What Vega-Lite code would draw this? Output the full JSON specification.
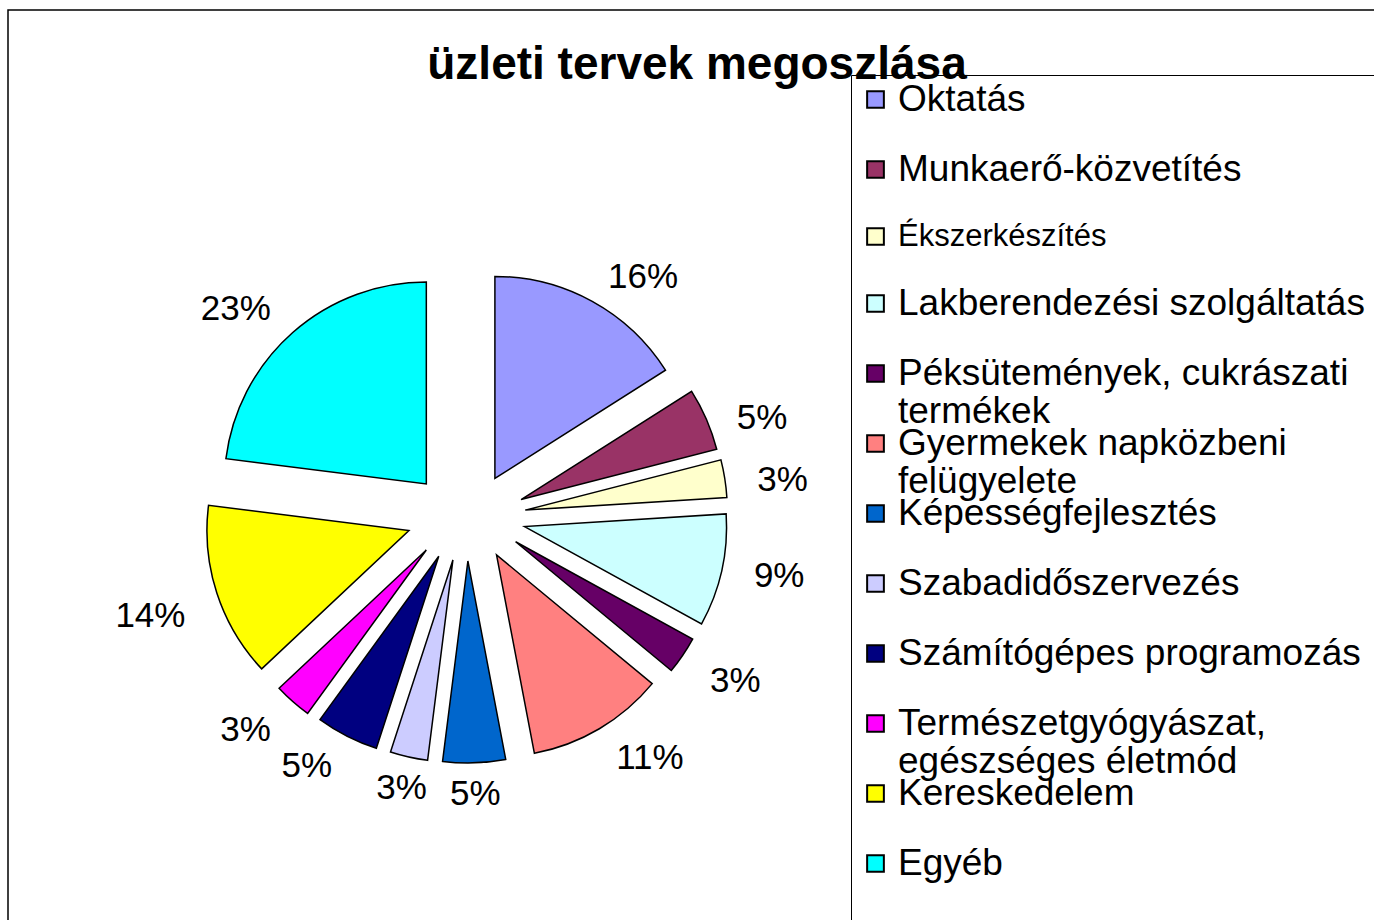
{
  "$schema": "https://vega.github.io/schema/vega-lite/v6.json",
  "width": 1406,
  "height": 950,
  "autosize": {"type": "none"},
  "padding": {"left": 8, "top": 10, "right": -40, "bottom": -40},
  "background": "white",
  "config": {
    "view": {"stroke": "black", "strokeWidth": 1.5, "fill": "white"},
    "font": "Liberation Sans"
  },
  "title": {
    "text": "üzleti tervek megoszlása",
    "font": "Liberation Sans",
    "fontSize": 46,
    "fontWeight": "bold",
    "color": "black",
    "anchor": "middle",
    "frame": "group",
    "baseline": "alphabetic",
    "offset": 0,
    "dx": -14,
    "dy": 115
  },
  "data": {
    "values": [
      {"kategoria": "Oktatás", "arany": 0.16},
      {"kategoria": "Munkaerő-közvetítés", "arany": 0.05},
      {"kategoria": "Ékszerkészítés", "arany": 0.03},
      {"kategoria": "Lakberendezési szolgáltatás", "arany": 0.09},
      {"kategoria": "Péksütemények, cukrászati termékek", "arany": 0.03},
      {"kategoria": "Gyermekek napközbeni felügyelete", "arany": 0.11},
      {"kategoria": "Képességfejlesztés", "arany": 0.05},
      {"kategoria": "Szabadidőszervezés", "arany": 0.03},
      {"kategoria": "Számítógépes programozás", "arany": 0.05},
      {"kategoria": "Természetgyógyászat, egészséges életmód", "arany": 0.03},
      {"kategoria": "Kereskedelem", "arany": 0.14},
      {"kategoria": "Egyéb", "arany": 0.23}
    ]
  },
  "transform": [
    {"window": [{"op": "row_number", "as": "sorszam"}]},
    {"window": [{"op": "sum", "field": "arany", "as": "kumulalt"}], "sort": [{"field": "sorszam"}], "frame": [null, 0]},
    {"joinaggregate": [{"op": "sum", "field": "arany", "as": "osszes"}]},
    {"calculate": "2 * PI * (datum.kumulalt - datum.arany / 2) / datum.osszes", "as": "kozep"},
    {"calculate": "sin(datum.kozep)", "as": "kx"},
    {"calculate": "cos(datum.kozep)", "as": "ky"}
  ],
  "encoding": {
    "theta": {"field": "arany", "type": "quantitative", "stack": true},
    "order": {"field": "sorszam", "type": "quantitative"},
    "detail": {"field": "kategoria", "type": "nominal"},
    "y": {"field": "ky", "type": "quantitative", "axis": null,
          "scale": {"domain": [-11.5227, 11.5227], "range": [1014, 0], "zero": false, "nice": false}}
  },
  "resolve": {"scale": {"x": "independent"}},
  "layer": [
    {
      "mark": {"type": "arc", "outerRadius": 202, "stroke": "black", "strokeWidth": 1.5},
      "encoding": {
        "x": {"field": "kx", "type": "quantitative", "axis": null,
              "scale": {"domain": [-7.6333, 7.6333], "range": [0, 916], "zero": false, "nice": false}},
        "color": {
          "field": "kategoria",
          "type": "nominal",
          "scale": {
            "domain": ["Oktatás", "Munkaerő-közvetítés", "Ékszerkészítés", "Lakberendezési szolgáltatás", "Péksütemények, cukrászati termékek", "Gyermekek napközbeni felügyelete", "Képességfejlesztés", "Szabadidőszervezés", "Számítógépes programozás", "Természetgyógyászat, egészséges életmód", "Kereskedelem", "Egyéb"],
            "range": ["#9999FF", "#993366", "#FFFFCC", "#CCFFFF", "#660066", "#FF8080", "#0066CC", "#CCCCFF", "#000080", "#FF00FF", "#FFFF00", "#00FFFF"]
          },
          "legend": {
            "orient": "none",
            "legendX": 843,
            "legendY": 65,
            "title": null,
            "symbolType": "square",
            "symbolSize": 280,
            "symbolStrokeColor": "black",
            "symbolStrokeWidth": 2,
            "labelFont": "Liberation Sans",
            "labelFontSize": 37,
            "labelColor": "black",
            "labelLimit": 2000,
            "labelOffset": 13,
            "padding": 15,
            "rowPadding": -6,
            "strokeColor": "black",
            "fillColor": "transparent",
            "labelExpr": "datum.label == 'Péksütemények, cukrászati termékek' ? ['Péksütemények, cukrászati', 'termékek'] : datum.label == 'Gyermekek napközbeni felügyelete' ? ['Gyermekek napközbeni', 'felügyelete'] : datum.label == 'Természetgyógyászat, egészséges életmód' ? ['Természetgyógyászat,', 'egészséges életmód'] : [datum.label, '']",
            "encoding": {
              "labels": {
                "lineHeight": {"value": 38},
                "fontSize": {"condition": {"test": "datum.value == 'Ékszerkészítés'", "value": 31}, "value": 37}
              }
            }
          }
        }
      }
    },
    {
      "mark": {
        "type": "text",
        "radius": 213,
        "dy": 3,
        "font": "Liberation Sans",
        "fontSize": 35,
        "color": "black",
        "align": {"expr": "datum.kx > 0.3 ? 'left' : datum.kx < -0.3 ? 'right' : 'center'"},
        "baseline": {"expr": "datum.ky > 0.45 ? 'bottom' : datum.ky < -0.25 ? 'top' : 'middle'"}
      },
      "encoding": {
        "x": {"field": "kx", "type": "quantitative", "axis": null,
              "scale": {"domain": [-5.5854, 5.5854], "range": [0, 916], "zero": false, "nice": false}},
        "text": {"field": "arany", "type": "quantitative", "format": ".0%"}
      }
    }
  ]
}
